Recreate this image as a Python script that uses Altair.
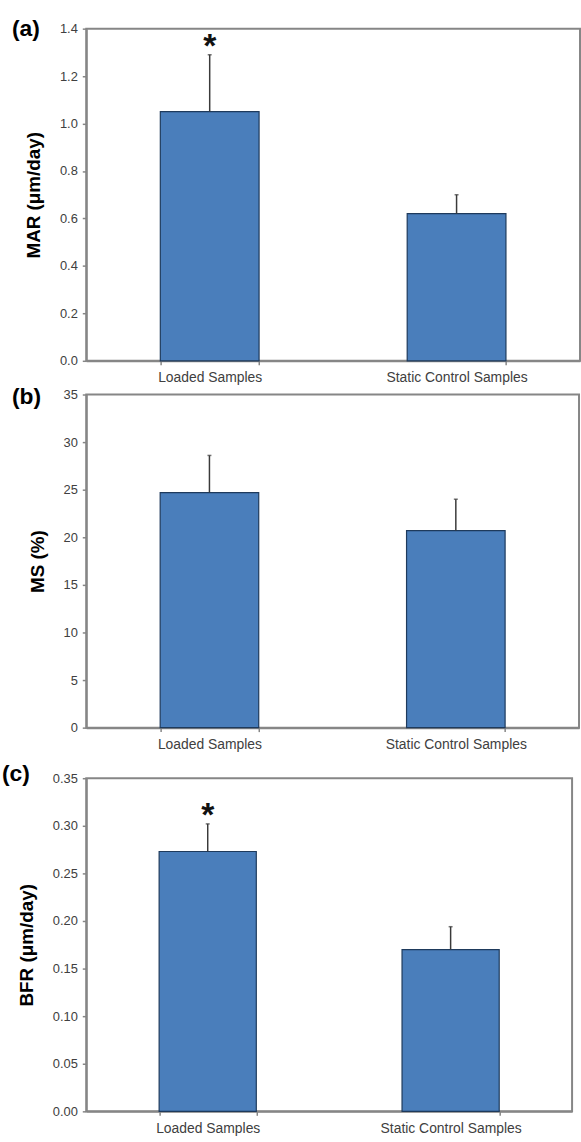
import altair as alt
import pandas as pd

# ---- data ----
groups = ["Loaded Samples", "Static Control Samples"]

mar_mean = [1.05, 0.62]
mar_err = [0.24, 0.08]
mar_sig = ["*", ""]

ms_mean = [24.7, 20.7]
ms_err = [3.9, 3.3]
ms_sig = ["", ""]

bfr_mean = [0.273, 0.170]
bfr_err = [0.029, 0.024]
bfr_sig = ["*", ""]

y_titles = ["MAR (μm/day)", "MS (%)", "BFR (μm/day)"]
panel_labels = ["(a)", "(b)", "(c)"]
mar_ticks = [0.0, 0.2, 0.4, 0.6, 0.8, 1.0, 1.2, 1.4]
ms_ticks = [0, 5, 10, 15, 20, 25, 30, 35]
bfr_ticks = [0.00, 0.05, 0.10, 0.15, 0.20, 0.25, 0.30, 0.35]

FONT = "Liberation Sans"
GRAY = "#868686"
BAR_FILL = "#4a7ebb"
BAR_STROKE = "#1e3a5c"


def panel(mean, err, sig, ticks, fmt, title, label, width, height, label_x, label_y):
    df = pd.DataFrame({
        "group": groups,
        "mean": mean,
        "upper": [m + e for m, e in zip(mean, err)],
        "sig": sig,
    })
    xs = alt.Scale(paddingInner=0.6, paddingOuter=0.3)
    x = alt.X("group:N", sort=groups, title=None, scale=xs,
              axis=alt.Axis(labelAngle=0, tickBand="extent", tickSize=4,
                            labelPadding=6, labelFontSize=14))
    xr = alt.X("group:N", sort=groups)
    ys = alt.Scale(domain=[ticks[0], ticks[-1]], nice=False, zero=True)
    y = alt.Y("mean:Q", scale=ys,
              axis=alt.Axis(values=ticks, format=fmt, title=title, grid=False,
                            tickSize=4, labelPadding=5, titlePadding=16,
                            titleFontSize=19, titleFontWeight="bold",
                            titleColor="black", labelFontSize=13))
    base = alt.Chart(df)
    bars = base.mark_bar(color=BAR_FILL, stroke=BAR_STROKE, strokeWidth=1.2).encode(x=x, y=y)
    rule = base.mark_rule(color="#3a3a3a", strokeWidth=1.5).encode(
        x=xr, y="mean:Q", y2="upper:Q")
    cap = base.mark_tick(color="#3a3a3a", size=4, thickness=1.5).encode(x=xr, y="upper:Q")
    star = base.mark_text(font=FONT, fontSize=34, fontWeight="bold", color="#111111",
                          baseline="alphabetic", dy=2).encode(
        x=xr, y="upper:Q", text="sig:N")
    lab = alt.Chart(pd.DataFrame({"lab": [label]})).mark_text(
        font=FONT, fontSize=23, fontWeight="bold", color="black",
        align="left", baseline="middle").encode(
        x=alt.value(label_x), y=alt.value(label_y), text="lab:N")
    return alt.layer(bars, rule, cap, star, lab).properties(width=width, height=height)


pa = panel(mar_mean, mar_err, mar_sig, mar_ticks, ".1f", y_titles[0], panel_labels[0],
           498, 335, -75, 0)
pb = panel(ms_mean, ms_err, ms_sig, ms_ticks, "d", y_titles[1], panel_labels[1],
           497, 336, -75, 3)
pc = panel(bfr_mean, bfr_err, bfr_sig, bfr_ticks, ".2f", y_titles[2], panel_labels[2],
           490, 336, -85, -4)

top_two = alt.vconcat(pa, pb, spacing=0)
chart = alt.vconcat(top_two, pc, spacing=10).properties(
    padding={"left": 1, "top": 12, "right": 0, "bottom": 0}
).configure_view(
    stroke=GRAY, strokeWidth=2
).configure_axis(
    domainColor=GRAY, domainWidth=2, tickColor=GRAY, tickWidth=1.5,
    labelFont=FONT, titleFont=FONT, labelColor="#404040"
)

chart.save("out.html", embed_options={"renderer": "svg", "actions": False})
